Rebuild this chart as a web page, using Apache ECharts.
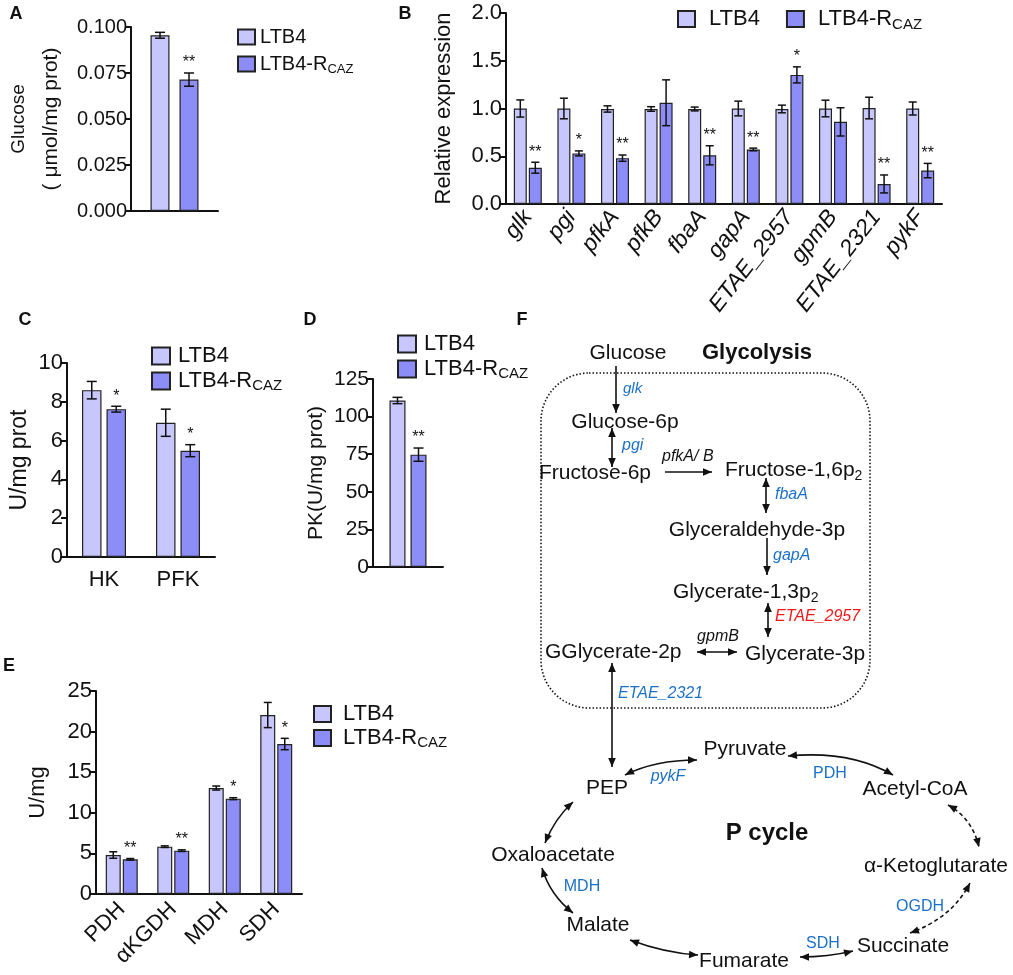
<!DOCTYPE html>
<html><head><meta charset="utf-8">
<script src="https://cdn.jsdelivr.net/npm/echarts@6/dist/echarts.min.js"></script>
<style>html,body{margin:0;padding:0;background:#fff}#c{width:1013px;height:975px}</style>
</head><body><div id="c"></div>
<script>
// ---------------- DATA ----------------
const seriesNames = ['LTB4', 'LTB4-RCAZ'];

// Panel A: Glucose
const aCategories = ['Glucose'];
const aLTB4 = [0.0955];
const aLTB4Err = [0.0016];
const aR = [0.0714];
const aRErr = [0.0036];
const aStars = ['**'];

// Panel B: relative expression
const bCategories = ['glk', 'pgi', 'pfkA', 'pfkB', 'fbaA', 'gapA', 'ETAE_2957', 'gpmB', 'ETAE_2321', 'pykF'];
const bLTB4 = [1.0, 1.0, 0.995, 0.995, 0.995, 1.0, 0.995, 1.0, 1.005, 1.0];
const bLTB4Err = [0.09, 0.108, 0.033, 0.024, 0.02, 0.077, 0.04, 0.087, 0.113, 0.068];
const bR = [0.38, 0.53, 0.48, 1.06, 0.51, 0.571, 1.352, 0.86, 0.21, 0.35];
const bRErr = [0.057, 0.026, 0.033, 0.24, 0.1, 0.014, 0.084, 0.148, 0.094, 0.075];
const bStars = ['**', '*', '**', '', '**', '**', '*', '', '**', '**'];

// Panel C: HK / PFK
const cCategories = ['HK', 'PFK'];
const cLTB4 = [8.6, 6.92];
const cLTB4Err = [0.45, 0.7];
const cR = [7.62, 5.48];
const cRErr = [0.15, 0.31];
const cStars = ['*', '*'];

// Panel D: PK
const dCategories = ['PK'];
const dLTB4 = [110.7];
const dLTB4Err = [2.1];
const dR = [74.7];
const dRErr = [4.4];
const dStars = ['**'];

// Panel E: enzymes
const eCategories = ['PDH', 'αKGDH', 'MDH', 'SDH'];
const eLTB4 = [4.8, 5.83, 13.05, 22.04];
const eLTB4Err = [0.4, 0.1, 0.25, 1.55];
const eR = [4.27, 5.34, 11.74, 18.47];
const eRErr = [0.1, 0.1, 0.12, 0.7];
const eStars = ['**', '**', '*', '*'];

// ---------------- STYLE ----------------
const FONT = '"Liberation Sans", Arial, Helvetica, sans-serif';
const COL1 = '#c7c7fd';
const COL2 = '#8d8df8';
const BLUE = '#1b70c8';
const RED = '#f01818';
const INK = '#111';

const chart = echarts.init(document.getElementById('c'), null, {renderer: 'canvas'});

const grids = [
  {left: 128, top: 27, width: 90, height: 184},   // A
  {left: 506, top: 13, width: 436, height: 191},  // B
  {left: 67, top: 363, width: 148, height: 194},  // C
  {left: 373, top: 379, width: 70, height: 188},  // D
  {left: 96, top: 691, width: 206, height: 203}   // E
];

function xAx(gi, cats, opt) {
  return Object.assign({
    type: 'category', gridIndex: gi, data: cats,
    axisLine: {lineStyle: {color: INK, width: 2}},
    axisTick: {show: false},
    axisLabel: {show: false}
  }, opt || {});
}
function yAx(gi, max, interval, fmt, fs, name, nameGap, nameSize, rich) {
  return {
    type: 'value', gridIndex: gi, min: 0, max: max, interval: interval,
    axisLine: {show: true, lineStyle: {color: INK, width: 2}},
    axisTick: {show: true, length: 6, lineStyle: {color: INK, width: 2}},
    axisLabel: {color: INK, fontSize: fs, fontFamily: FONT, margin: 4, formatter: fmt},
    splitLine: {show: false},
    name: name, nameLocation: 'middle', nameRotate: 90, nameGap: nameGap,
    nameTextStyle: {color: INK, fontSize: nameSize, fontFamily: FONT, lineHeight: 28, rich: rich}
  };
}

function bars(gi, d1, d2, bw, gap) {
  const common = {type: 'bar', xAxisIndex: gi, yAxisIndex: gi, barWidth: bw,
    barGap: (gap / bw * 100).toFixed(1) + '%', z: 2};
  return [
    Object.assign({name: seriesNames[0], data: d1,
      itemStyle: {color: COL1, borderColor: '#222', borderWidth: 1.2}}, common),
    Object.assign({name: seriesNames[1], data: d2,
      itemStyle: {color: COL2, borderColor: '#222', borderWidth: 1.2}}, common)
  ];
}

function errSeries(id, gi, vals, errs, stars, offset, cap) {
  return {
    type: 'custom', id: id, xAxisIndex: gi, yAxisIndex: gi, z: 5, silent: true,
    data: vals.map((v, i) => [i, v, errs[i]]),
    renderItem: function (params, api) {
      const i = api.value(0), v = api.value(1), e = api.value(2);
      const p = api.coord([i, v]);
      const x = p[0] + offset;
      const yt = api.coord([i, v + e])[1];
      const yb = api.coord([i, v - e])[1];
      const st = {stroke: INK, lineWidth: 1.5};
      const ch = [
        {type: 'line', shape: {x1: x, y1: yt, x2: x, y2: yb}, style: st},
        {type: 'line', shape: {x1: x - cap, y1: yt, x2: x + cap, y2: yt}, style: st},
        {type: 'line', shape: {x1: x - cap, y1: yb, x2: x + cap, y2: yb}, style: st}
      ];
      const s = stars ? stars[params.dataIndex] : '';
      if (s) {
        ch.push({type: 'text', x: x, y: yt - 2,
          style: {text: s, fontSize: 16, fontFamily: FONT, fill: INK, align: 'center', verticalAlign: 'bottom'}});
      }
      return {type: 'group', children: ch};
    }
  };
}

function legend(left, top, orient, iw, ih, gap, fs, lh, padLeft) {
  return {
    left: left, top: top, orient: orient, padding: 0,
    itemWidth: iw, itemHeight: ih, itemGap: gap, selectedMode: false,
    data: seriesNames, icon: 'rect',
    formatter: function (n) { return n === 'LTB4' ? '{n|LTB4}' : '{n|LTB4-R}{s|CAZ}'; },
    textStyle: {color: INK, fontFamily: FONT, fontSize: fs, lineHeight: lh, padding: [0, 0, 0, padLeft],
      rich: {
        n: {fontSize: fs, fontFamily: FONT, color: INK, lineHeight: lh},
        s: {fontSize: Math.round(fs * 0.66), fontFamily: FONT, color: INK, lineHeight: 10, verticalAlign: 'bottom'}
      }}
  };
}

// ---------------- DIAGRAM HELPERS ----------------
function txt(t, x, y, o) {
  o = o || {};
  return {type: 'text', x: x, y: y, z: 10, silent: true,
    style: {text: t, fontSize: o.fs || 21, fontFamily: FONT, fontWeight: o.bold ? 'bold' : 'normal',
      fontStyle: o.it ? 'italic' : 'normal', fill: o.color || INK,
      align: o.align || 'center', verticalAlign: 'middle', rich: o.rich}};
}
function head(tx, ty, fx, fy) {
  const dx = tx - fx, dy = ty - fy, L = Math.hypot(dx, dy) || 1;
  const ux = dx / L, uy = dy / L, nx = -uy, ny = ux;
  const hl = 9, hw = 3.8;
  const bx = tx - ux * hl, by = ty - uy * hl;
  return {type: 'polygon', z: 10, silent: true,
    shape: {points: [[tx, ty], [bx + nx * hw, by + ny * hw], [bx - nx * hw, by - ny * hw]]},
    style: {fill: INK}};
}
function arrow(x1, y1, x2, y2, o) {
  o = o || {};
  const els = [];
  const st = {stroke: INK, lineWidth: 1.6, fill: 'none', lineDash: o.dash ? [4, 3] : null};
  if (o.cp) {
    els.push({type: 'bezierCurve', z: 10, silent: true,
      shape: {x1: x1, y1: y1, x2: x2, y2: y2, cpx1: o.cp[0], cpy1: o.cp[1]}, style: st});
    els.push(head(x2, y2, o.cp[0], o.cp[1]));
    if (o.both) els.push(head(x1, y1, o.cp[0], o.cp[1]));
  } else {
    els.push({type: 'line', z: 10, silent: true, shape: {x1: x1, y1: y1, x2: x2, y2: y2}, style: st});
    els.push(head(x2, y2, x1, y1));
    if (o.both) els.push(head(x1, y1, x2, y2));
  }
  return els;
}
const subRich = {
  n: {fontSize: 21, fontFamily: FONT, color: INK, lineHeight: 26},
  s: {fontSize: 14, fontFamily: FONT, color: INK, lineHeight: 10, verticalAlign: 'bottom'}
};

let graphics = [];
// panel letters
[['A', 16, 14], ['B', 405, 14], ['C', 25, 320], ['D', 310, 320], ['F', 522, 320], ['E', 9, 666]].forEach(l => {
  graphics.push(txt(l[0], l[1], l[2], {fs: 18, bold: true}));
});
// dotted box
graphics.push({type: 'rect', z: 9, silent: true, shape: {x: 541, y: 373, width: 329, height: 335, r: 48},
  style: {fill: 'none', stroke: INK, lineWidth: 1.6, lineDash: [1.5, 2]}});

graphics.push(txt('Glucose', 628, 353));
graphics.push(txt('Glycolysis', 757, 353, {fs: 22, bold: true}));
graphics.push(txt('glk', 623, 389, {fs: 15, it: true, color: BLUE, align: 'left'}));
graphics.push(txt('Glucose-6p', 625, 422));
graphics.push(txt('pgi', 622, 446, {fs: 16, it: true, color: BLUE, align: 'left'}));
graphics.push(txt('Fructose-6p', 595, 473));
graphics.push(txt('{b|pfkA/}{k| B}', 662, 457, {align: 'left', rich: {
  b: {fontSize: 16, fontFamily: FONT, fontStyle: 'italic', color: BLUE},
  k: {fontSize: 16, fontFamily: FONT, fontStyle: 'italic', color: INK}}}));
graphics.push(txt('{n|Fructose-1,6p}{s|2}', 725, 470, {align: 'left', rich: subRich}));
graphics.push(txt('fbaA', 775, 495, {fs: 16, it: true, color: BLUE, align: 'left'}));
graphics.push(txt('Glyceraldehyde-3p', 757, 530));
graphics.push(txt('gapA', 773, 556, {fs: 16, it: true, color: BLUE, align: 'left'}));
graphics.push(txt('{n|Glycerate-1,3p}{s|2}', 673, 592, {align: 'left', rich: subRich}));
graphics.push(txt('ETAE_2957', 775, 617, {fs: 16, it: true, color: RED, align: 'left'}));
graphics.push(txt('GGlycerate-2p', 545, 652, {align: 'left'}));
graphics.push(txt('gpmB', 718, 637, {fs: 16, it: true, color: INK}));
graphics.push(txt('Glycerate-3p', 745, 654, {align: 'left'}));
graphics.push(txt('ETAE_2321', 618, 694, {fs: 16, it: true, color: BLUE, align: 'left'}));
graphics.push(txt('Pyruvate', 745, 749));
graphics.push(txt('PEP', 607, 788));
graphics.push(txt('pykF', 668, 777, {fs: 16, it: true, color: BLUE}));
graphics.push(txt('PDH', 830, 774, {fs: 16, color: BLUE}));
graphics.push(txt('Acetyl-CoA', 915, 789));
graphics.push(txt('P cycle', 767, 833, {fs: 24, bold: true}));
graphics.push(txt('Oxaloacetate', 553, 855));
graphics.push(txt('α-Ketoglutarate', 936, 866));
graphics.push(txt('MDH', 582, 887, {fs: 16, color: BLUE}));
graphics.push(txt('OGDH', 920, 907, {fs: 16, color: BLUE}));
graphics.push(txt('Malate', 598, 925));
graphics.push(txt('Succinate', 903, 946));
graphics.push(txt('SDH', 823, 944, {fs: 16, color: BLUE}));
graphics.push(txt('Fumarate', 744, 961));

graphics = graphics.concat(
  arrow(616, 366, 616, 413),
  arrow(612, 428, 612, 467, {both: true}),
  arrow(665, 472, 712, 472),
  arrow(766, 478, 766, 513, {both: true}),
  arrow(767, 538, 767, 575),
  arrow(768, 603, 768, 637, {both: true}),
  arrow(697, 652, 737, 652, {both: true}),
  arrow(612, 663, 612, 767, {both: true}),
  arrow(625, 775, 697, 760, {both: true, cp: [655, 760]}),
  arrow(788, 756, 893, 775, {both: true, cp: [850, 750]}),
  arrow(948, 805, 979, 847, {both: true, cp: [972, 818], dash: true}),
  arrow(970, 883, 910, 933, {both: true, cp: [952, 918], dash: true}),
  arrow(853, 951, 800, 957, {both: true, cp: [828, 957]}),
  arrow(630, 940, 698, 955, {both: true, cp: [665, 953]}),
  arrow(542, 868, 573, 913, {both: true, cp: [550, 895]}),
  arrow(573, 802, 545, 843, {both: true, cp: [555, 818]})
);

// ---------------- OPTION ----------------
const option = {
  animation: false,
  backgroundColor: '#fff',
  textStyle: {fontFamily: FONT},
  grid: grids,
  xAxis: [
    xAx(0, aCategories),
    xAx(1, bCategories, {axisLabel: {show: true, interval: 0, rotate: 52, color: INK, fontSize: 23,
      fontStyle: 'italic', fontFamily: FONT, margin: 9}}),
    xAx(2, cCategories, {axisLabel: {show: true, color: INK, fontSize: 22, fontFamily: FONT, margin: 12}}),
    xAx(3, dCategories),
    xAx(4, eCategories, {axisLabel: {show: true, interval: 0, rotate: 45, color: INK, fontSize: 22,
      fontFamily: FONT, margin: 12}})
  ],
  yAxis: [
    yAx(0, 0.1, 0.025, v => v.toFixed(3), 20, '{g|Glucose}\n{m|( μmol/mg prot)}', 66, 21, {
      g: {fontSize: 19, fontFamily: FONT, color: INK, lineHeight: 36},
      m: {fontSize: 21, fontFamily: FONT, color: INK, lineHeight: 28}
    }),
    yAx(1, 2.0, 0.5, v => v.toFixed(1), 22, 'Relative expression', 48, 22),
    yAx(2, 10, 2, v => String(v), 22, 'U/mg prot', 33, 23),
    yAx(3, 125, 25, v => String(v), 21, 'PK(U/mg prot)', 43, 21),
    yAx(4, 25, 5, v => String(v), 22, 'U/mg', 44, 22)
  ],
  legend: [
    legend(237, 25, 'vertical', 17, 15, 3, 20, 24, 0),
    legend(677, 6, 'horizontal', 17, 16, 26, 22, 26, 9),
    legend(151, 344, 'vertical', 18, 17, 1, 22, 24, 3),
    legend(397, 332, 'vertical', 18, 17, 1, 22, 24, 3),
    legend(313, 702, 'vertical', 17, 16, 0, 22, 24, 7)
  ],
  graphic: {elements: graphics},
  series: [].concat(
    bars(0, aLTB4, aR, 19, 10),
    bars(1, bLTB4, bR, 13, 2),
    bars(2, cLTB4, cR, 19.5, 5),
    bars(3, dLTB4, dR, 16, 5),
    bars(4, eLTB4, eR, 15, 2),
    [
      errSeries('eA1', 0, aLTB4, aLTB4Err, null, -14.5, 5),
      errSeries('eA2', 0, aR, aRErr, aStars, 14.5, 5),
      errSeries('eB1', 1, bLTB4, bLTB4Err, null, -7.5, 4),
      errSeries('eB2', 1, bR, bRErr, bStars, 7.5, 4),
      errSeries('eC1', 2, cLTB4, cLTB4Err, null, -12.25, 5),
      errSeries('eC2', 2, cR, cRErr, cStars, 12.25, 5),
      errSeries('eD1', 3, dLTB4, dLTB4Err, null, -10.5, 5),
      errSeries('eD2', 3, dR, dRErr, dStars, 10.5, 5),
      errSeries('eE1', 4, eLTB4, eLTB4Err, null, -8.5, 4),
      errSeries('eE2', 4, eR, eRErr, eStars, 8.5, 4)
    ]
  )
};
chart.setOption(option);
</script></body></html>
